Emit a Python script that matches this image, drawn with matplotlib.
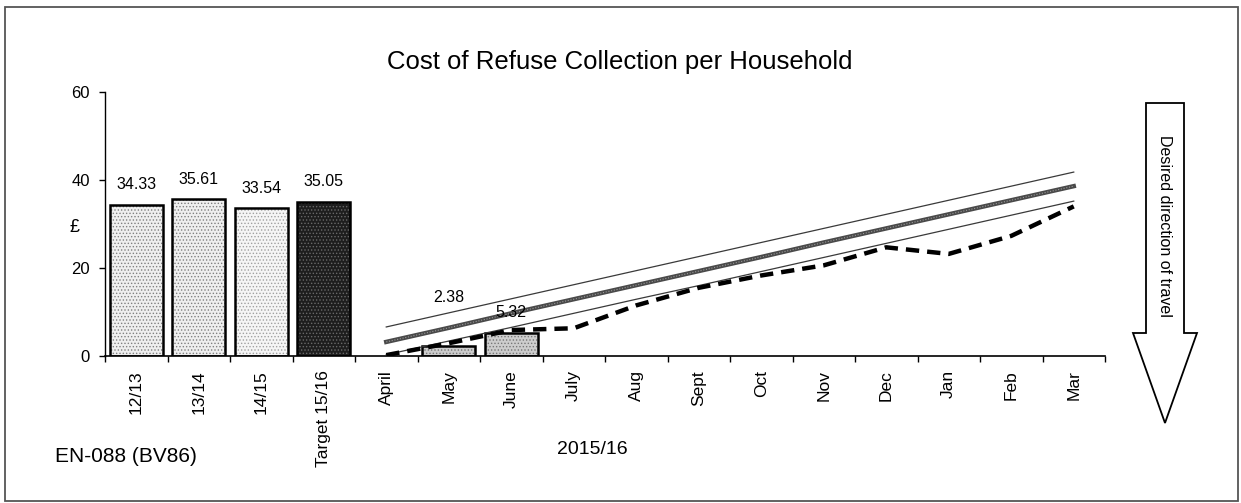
import matplotlib
matplotlib.use("Agg")
import matplotlib.pyplot as plt
from matplotlib.patches import Polygon, Rectangle

plt.rcParams['font.family'] = ['Liberation Sans', 'DejaVu Sans']
plt.rcParams['hatch.linewidth'] = 0.6

# ---------------- data ----------------
categories = ["12/13", "13/14", "14/15", "Target 15/16", "April", "May", "June",
              "July", "Aug", "Sept", "Oct", "Nov", "Dec", "Jan", "Feb", "Mar"]
annual_labels = ["12/13", "13/14", "14/15", "Target 15/16"]
annual_values = [34.33, 35.61, 33.54, 35.05]
months = ["April", "May", "June", "July", "Aug", "Sept", "Oct", "Nov", "Dec", "Jan", "Feb", "Mar"]
monthly_actual_months = ["May", "June"]
monthly_actual_values = [2.38, 5.32]
target_profile = [3.2, 6.4, 9.7, 12.9, 16.1, 19.3, 22.5, 25.8, 29.0, 32.2, 35.4, 38.6]
upper_tolerance = [6.6, 9.8, 13.0, 16.2, 19.4, 22.6, 25.8, 29.0, 32.2, 35.4, 38.6, 41.8]
lower_tolerance = [0.3, 3.4, 6.5, 9.7, 12.9, 16.0, 19.2, 22.4, 25.6, 28.8, 32.0, 35.2]
forecast = [0.2, 2.9, 5.9, 6.3, 11.5, 15.5, 18.3, 20.6, 24.7, 23.2, 27.3, 34.0]
y_ticks = [0, 20, 40, 60]

W, H = 1241, 503
fig = plt.figure(figsize=(W / 100, H / 100), dpi=100)

def fx(x):
    return x / W

def fy(y):
    return 1 - y / H

ax = fig.add_axes([fx(105), fy(356), fx(1105) - fx(105), fy(92) - fy(356)])

pos = {c: i for i, c in enumerate(categories)}
xa = [pos[c] for c in annual_labels]
xm = [pos[c] for c in months]
xb = [pos[c] for c in monthly_actual_months]

bw = 0.85
faces = ['#efefef', '#efefef', '#f5f5f5', '#1e1e1e']
hatchc = ['#808080', '#808080', '#a0a0a0', '#6a6a6a']
for x, v, fc, hc in zip(xa, annual_values, faces, hatchc):
    ax.bar(x, v, width=bw, color=fc, edgecolor=hc, hatch='.....', linewidth=0, zorder=2)
ax.bar(xa, annual_values, width=bw, facecolor='none', edgecolor='black', linewidth=1.8, zorder=3)

ax.bar(xb, monthly_actual_values, width=bw, color='#cdcdcd', edgecolor='#777777',
       hatch='.....', linewidth=0, zorder=2)
ax.bar(xb, monthly_actual_values, width=bw, facecolor='none', edgecolor='black',
       linewidth=1.8, zorder=3)

for x, v in zip(xa, annual_values):
    ax.annotate(f"{v:.2f}", (x, v), xytext=(0, 20), textcoords='offset pixels',
                ha='center', va='center', fontsize=11.5, zorder=6)
label_offsets = [48, 20]
for x, v, off in zip(xb, monthly_actual_values, label_offsets):
    ax.annotate(f"{v:.2f}", (x, v), xytext=(0, off), textcoords='offset pixels',
                ha='center', va='center', fontsize=11.5, zorder=6)

ax.plot(xm, upper_tolerance, color='#3a3a3a', lw=0.9, zorder=4)
ax.plot(xm, lower_tolerance, color='#3a3a3a', lw=0.9, zorder=4)
ax.plot(xm, target_profile, color='#4a4a4a', lw=3.2, zorder=4)
ax.plot(xm, target_profile, color='#9a9a9a', lw=0.8, ls=(0, (1, 1.5)), zorder=4)
ax.plot(xm, forecast, color='black', lw=3.2, ls=(0, (3, 1.8)), zorder=5)

ax.set_xlim(-0.5, len(categories) - 0.5)
ax.set_ylim(0, 60)
ax.set_yticks(y_ticks)
ax.set_yticklabels([str(t) for t in y_ticks], fontsize=12)
ax.set_xticks(range(len(categories)))
ax.set_xticklabels(categories, rotation=90, fontsize=12.5)
ax.tick_params(axis='x', which='major', length=0, pad=10)
ax.set_xticks([i - 0.5 for i in range(len(categories) + 1)], minor=True)
ax.tick_params(axis='x', which='minor', length=4, width=1, direction='out')
ax.tick_params(axis='y', length=4, width=1, direction='out', pad=7)
for s in ['top', 'right']:
    ax.spines[s].set_visible(False)
ax.spines['left'].set_linewidth(1.0)
ax.spines['bottom'].set_linewidth(1.2)
ax.patch.set_alpha(0)

fig.text(fx(74), fy(227), "£", fontsize=13, ha='center', va='center')
fig.text(fx(620), fy(62), "Cost of Refuse Collection per Household", fontsize=18.5,
         ha='center', va='center')
fig.text(fx(126), fy(457), "EN-088 (BV86)", fontsize=15, ha='center', va='center')
fig.text(fx(592), fy(449), "2015/16", fontsize=14, ha='center', va='center')

# direction arrow
arrow_px = [(1146, 103), (1184, 103), (1184, 333), (1197, 333), (1165, 423),
            (1133, 333), (1146, 333)]
fig.patches.append(Polygon([(fx(x), fy(y)) for x, y in arrow_px], closed=True,
                           facecolor='white', edgecolor='black', linewidth=1.3,
                           transform=fig.transFigure, figure=fig))
fig.text(fx(1165), fy(226), "Desired direction of travel", fontsize=11.5,
         rotation=-90, ha='center', va='center')

# outer border
fig.patches.append(Rectangle((fx(5), fy(501)), fx(1238) - fx(5), fy(7) - fy(501),
                             fill=False, edgecolor='#555555', linewidth=1.3,
                             transform=fig.transFigure, figure=fig))

fig.savefig("out.png", dpi=100)
